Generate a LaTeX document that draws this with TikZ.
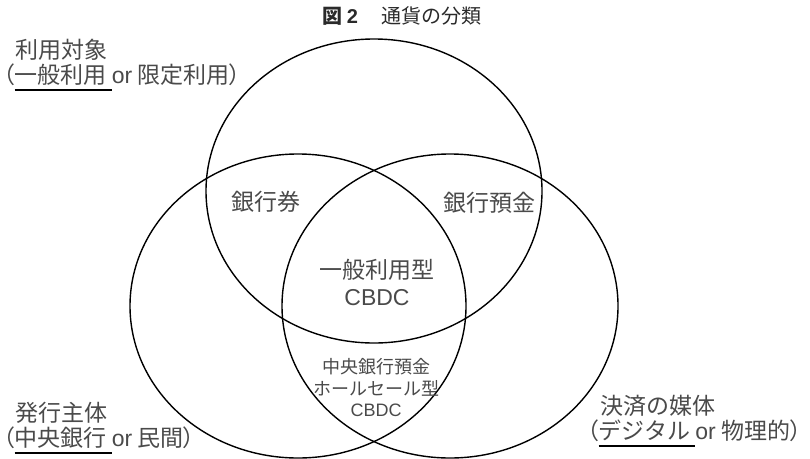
\documentclass[tikz,border=0pt]{standalone}
\usepackage{fontspec}
\setmainfont{Noto Sans CJK JP}
\newfontfamily\lat{Liberation Sans}
\usetikzlibrary{shapes.geometric}
\definecolor{txt}{HTML}{4A4A4A}
\definecolor{ttl}{HTML}{2A2A2A}
\newcommand\myul[1]{\leavevmode\setbox0=\hbox{#1}\rlap{\color{black}\vrule width\wd0 height -5.6pt depth 7.4pt}\box0}
\newcommand\lp{{\addfontfeature{RawFeature=+palt}（}}
\newcommand\rp{{\addfontfeature{RawFeature=+palt}）}}
\begin{document}
\begin{tikzpicture}[x=1pt,y=-1pt,
  venn/.style={ellipse, draw=black, line width=1.4pt, inner sep=0pt, outer sep=0pt,
    minimum width=336pt, minimum height=304pt},
  lbl/.style={text=txt, inner sep=0pt, align=left, anchor=west,
    font=\fontsize{23}{25}\selectfont},
  big/.style={text=txt, inner sep=0pt, align=center,
    font=\fontsize{23}{27}\selectfont},
  small/.style={text=txt, inner sep=0pt, align=center,
    font=\fontsize{18}{21.5}\selectfont},
  ttlstyle/.style={text=ttl, inner sep=0pt, font=\fontsize{20}{24}\selectfont}]
\useasboundingbox (0,0) rectangle (810,458);
\node[venn] (use) at (374,191) {};
\node[venn] (issuer) at (298,306) {};
\node[venn] (medium) at (450,306) {};
\node[ttlstyle, anchor=west] (title) at (322,16) {\textbf{図 {\lat 2}}\hspace{1.2em}通貨の分類};
\node[lbl] (lblUse) at (3,65) {\hspace{12pt}利用対象\\\lp\myul{一般利用 }{\lat or} 限定利用\rp};
\node[lbl] (lblIssuer) at (3,428) {\hspace{12pt}発行主体\\\lp\myul{中央銀行 }{\lat or} 民間\rp};
\node[lbl] (lblMedium) at (587,421) {\hspace{13pt}決済の媒体\\\lp\myul{デジタル }{\lat or} 物理的\rp};
\node[big] (note) at (266,202) {銀行券};
\node[big] (deposit) at (489,203) {銀行預金};
\node[big] (gcbdc) at (377,282) {一般利用型\\{\lat CBDC}};
\node[small] (wcbdc) at (376,388) {中央銀行預金\\ホールセール型\\{\lat CBDC}};
\end{tikzpicture}
\end{document}
